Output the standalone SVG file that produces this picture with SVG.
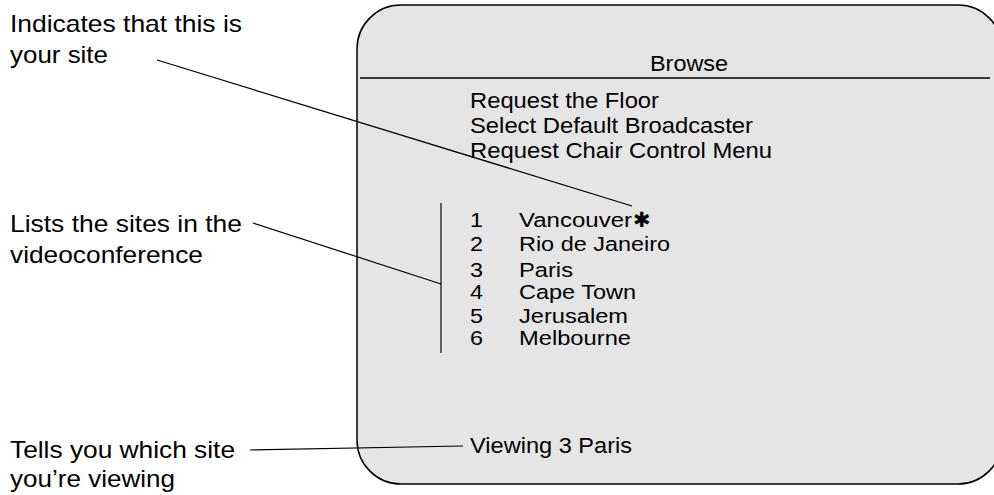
<svg xmlns="http://www.w3.org/2000/svg" width="994" height="495" viewBox="0 0 994 495">
<style>
.t{font-family:"Liberation Sans",Arial,sans-serif;fill:#000}
.m{font-size:21.5px}
.s{font-size:20.5px}
.l{font-size:24px}
.ln{stroke:#000;stroke-width:1.2;fill:none}
</style>
<rect width="994" height="495" fill="#fff"/>
<g id="screen">
<rect x="357" y="5" width="645" height="479" rx="44" ry="44" fill="#e5e5e5" stroke="#000" stroke-width="1.5"/>
<text class="t m" x="650" y="71" textLength="78" lengthAdjust="spacingAndGlyphs">Browse</text>
<line x1="360" y1="78" x2="990" y2="78" stroke="#000" stroke-width="1.3"/>
<text class="t m" x="470" y="108" textLength="189" lengthAdjust="spacingAndGlyphs">Request the Floor</text>
<text class="t m" x="470" y="133" textLength="283" lengthAdjust="spacingAndGlyphs">Select Default Broadcaster</text>
<text class="t m" x="470" y="158" textLength="302" lengthAdjust="spacingAndGlyphs">Request Chair Control Menu</text>
</g>
<g id="sites">
<line x1="441" y1="203" x2="441" y2="353" stroke="#333" stroke-width="1.5"/>
<text class="t s" x="470" y="227" textLength="13" lengthAdjust="spacingAndGlyphs">1</text>
<text class="t s" x="470" y="251" textLength="13" lengthAdjust="spacingAndGlyphs">2</text>
<text class="t s" x="470" y="277" textLength="13" lengthAdjust="spacingAndGlyphs">3</text>
<text class="t s" x="470" y="299" textLength="13" lengthAdjust="spacingAndGlyphs">4</text>
<text class="t s" x="470" y="323" textLength="13" lengthAdjust="spacingAndGlyphs">5</text>
<text class="t s" x="470" y="345" textLength="13" lengthAdjust="spacingAndGlyphs">6</text>
<text class="t s" x="519" y="227" textLength="113" lengthAdjust="spacingAndGlyphs">Vancouver</text>
<text class="t s" x="519" y="251" textLength="151" lengthAdjust="spacingAndGlyphs">Rio de Janeiro</text>
<text class="t s" x="519" y="277" textLength="54" lengthAdjust="spacingAndGlyphs">Paris</text>
<text class="t s" x="519" y="299" textLength="117" lengthAdjust="spacingAndGlyphs">Cape Town</text>
<text class="t s" x="519" y="323" textLength="109" lengthAdjust="spacingAndGlyphs">Jerusalem</text>
<text class="t s" x="519" y="345" textLength="112" lengthAdjust="spacingAndGlyphs">Melbourne</text>
<text x="633" y="227" font-family="'DejaVu Sans',sans-serif" font-size="21" fill="#000">✱</text>
</g>
<g id="viewing">
<text class="t m" x="470" y="453" textLength="162" lengthAdjust="spacingAndGlyphs">Viewing 3 Paris</text>
</g>
<g id="note-site">
<text class="t l" x="10" y="32" textLength="232" lengthAdjust="spacingAndGlyphs">Indicates that this is</text>
<text class="t l" x="10" y="63" textLength="98" lengthAdjust="spacingAndGlyphs">your site</text>
</g>
<g id="note-list">
<text class="t l" x="10" y="232" textLength="232" lengthAdjust="spacingAndGlyphs">Lists the sites in the</text>
<text class="t l" x="10" y="263" textLength="193" lengthAdjust="spacingAndGlyphs">videoconference</text>
</g>
<g id="note-viewing">
<text class="t l" x="10" y="458" textLength="225" lengthAdjust="spacingAndGlyphs">Tells you which site</text>
<text class="t l" x="10" y="487" textLength="165" lengthAdjust="spacingAndGlyphs">you’re viewing</text>
</g>
<g id="connectors">
<line class="ln" x1="157" y1="60" x2="632" y2="206"/>
<line class="ln" x1="253" y1="223" x2="441" y2="284"/>
<line class="ln" x1="250" y1="450" x2="463" y2="446"/>
</g>
</svg>
